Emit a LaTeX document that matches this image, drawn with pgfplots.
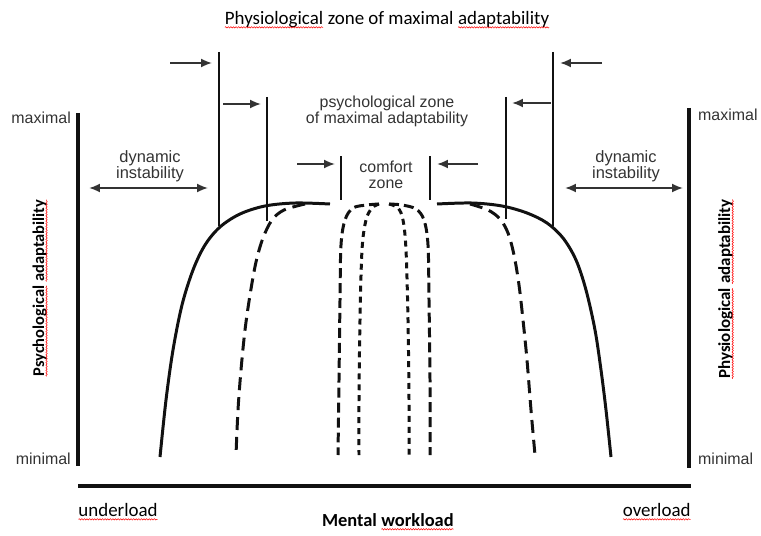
\documentclass[border=0pt]{standalone}
\usepackage{pgfplots}
\pgfplotsset{compat=1.18}
\usepackage{fontspec}
\setmainfont{Carlito}
\newfontfamily\ari{Liberation Sans}
\usetikzlibrary{arrows.meta,decorations.pathmorphing}
\definecolor{ink}{HTML}{111111}
\definecolor{txt}{HTML}{333333}
\newcommand\spl[1]{\tikz[baseline=(w.base)]{\node[inner sep=0pt,outer sep=0pt,text=black,rotate=0](w){#1};
 \draw[red,line width=0.5pt,decorate,decoration={snake,amplitude=0.7pt,segment length=2.6pt}] ([yshift=-2.5pt]w.base west)--([yshift=-2.5pt]w.base east);}}
\begin{document}
\begin{tikzpicture}
\begin{axis}[width=761bp,height=536bp,scale only axis,
  xmin=0,xmax=761,ymin=0,ymax=536,y dir=reverse,hide axis,clip=false]
\addplot[draw=none] coordinates {(0,0)(761,536)};
% frame lines
\addplot[ink,line width=3.4pt] coordinates {(78,113)(78,466)};
\addplot[ink,line width=3.4pt] coordinates {(689,108)(689,468)};
\addplot[ink,line width=3.4pt] coordinates {(78,486)(691,486)};
% solid curves
\addplot[ink,line width=3pt,smooth,tension=0.55] coordinates {
 (160,457)(166,400)(173,350)(182,305)(193,270)(205,245)(220,227)(240,214)(265,206)(295,203)(330,204)};
\addplot[ink,line width=3pt,smooth,tension=0.55] coordinates {
 (437,204)(472,203)(502,206)(527,213)(547,223)(563,238)(576,260)(586,290)(595,330)(601,370)(606,410)(611,457)};
% dashed outer
\addplot[ink,line width=3pt,smooth,tension=0.55,dash pattern=on 13pt off 7pt] coordinates {
 (305,204)(284,210)(272,220)(263,238)(256,262)(250,295)(245,330)(241,370)(238,410)(236,455)};
\addplot[ink,line width=3pt,smooth,tension=0.55,dash pattern=on 13pt off 7pt] coordinates {
 (470,204)(488,210)(500,219)(508,233)(514,255)(519,285)(523,320)(527,360)(531,410)(535,455)};
% middle dashed
\addplot[ink,line width=3pt,smooth,tension=0.55,dash pattern=on 10pt off 5pt] coordinates {
 (379,204)(367,205)(353,208)(345,220)(341,245)(340,300)(339,380)(338,455)};
\addplot[ink,line width=3pt,smooth,tension=0.55,dash pattern=on 10pt off 5pt] coordinates {
 (389,204)(402,205)(416,209)(424,220)(428,245)(429,300)(430,380)(430,455)};
\addplot[ink,line width=3pt,smooth,tension=0.55,dash pattern=on 6pt off 5pt] coordinates {
 (379,204)(372,208)(366,220)(362,250)(360,320)(359,400)(359,455)};
\addplot[ink,line width=3pt,smooth,tension=0.55,dash pattern=on 6pt off 5pt] coordinates {
 (389,204)(398,208)(403,220)(406,250)(408,320)(409,400)(409,455)};
% vertical zone lines
\addplot[ink,line width=1.7pt] coordinates {(219,52)(219,226)};
\addplot[ink,line width=1.7pt] coordinates {(267,97)(267,221)};
\addplot[ink,line width=1.7pt] coordinates {(341,156)(341,200)};
\addplot[ink,line width=1.7pt] coordinates {(430,156)(430,200)};
\addplot[ink,line width=1.7pt] coordinates {(506,97)(506,219)};
\addplot[ink,line width=1.7pt] coordinates {(553,52)(553,226)};
% arrows
\addplot[txt,line width=1.8pt,-{Latex[length=11pt,width=9pt]}] coordinates {(170,63)(212,63)};
\addplot[txt,line width=1.8pt,-{Latex[length=11pt,width=9pt]}] coordinates {(223,104)(261,104)};
\addplot[txt,line width=1.8pt,-{Latex[length=11pt,width=9pt]}] coordinates {(297,164)(335,164)};
\addplot[txt,line width=1.8pt,-{Latex[length=11pt,width=9pt]}] coordinates {(478,164)(437,164)};
\addplot[txt,line width=1.8pt,-{Latex[length=11pt,width=9pt]}] coordinates {(551,103)(512,103)};
\addplot[txt,line width=1.8pt,-{Latex[length=11pt,width=9pt]}] coordinates {(602,63)(560,63)};
\addplot[txt,line width=1.8pt,{Latex[length=11pt,width=9pt]}-{Latex[length=11pt,width=9pt]}] coordinates {(89,188)(208,188)};
\addplot[txt,line width=1.8pt,{Latex[length=11pt,width=9pt]}-{Latex[length=11pt,width=9pt]}] coordinates {(565,188)(683,188)};
% texts
\node[font=\fontsize{19}{20}\selectfont] at (axis cs:387,20) {\spl{Physiological} zone of maximal \spl{adaptability}};
\node[txt,font=\ari\fontsize{16}{16}\selectfont,align=center] at (axis cs:387,111) {psychological zone\\of maximal adaptability};
\node[txt,font=\ari\fontsize{16.5}{16}\selectfont,align=center] at (axis cs:150,166) {dynamic\\instability};
\node[txt,font=\ari\fontsize{16.5}{16}\selectfont,align=center] at (axis cs:626,166) {dynamic\\instability};
\node[txt,font=\ari\fontsize{16}{16}\selectfont,align=center] at (axis cs:386,175) {comfort\\zone};
\node[txt,font=\ari\fontsize{16}{16}\selectfont,anchor=east,inner sep=0pt] at (axis cs:71,118) {maximal};
\node[txt,font=\ari\fontsize{16}{16}\selectfont,anchor=east,inner sep=0pt] at (axis cs:71,459) {minimal};
\node[txt,font=\ari\fontsize{16}{16}\selectfont,anchor=west,inner sep=0pt] at (axis cs:698,115) {maximal};
\node[txt,font=\ari\fontsize{16}{16}\selectfont,anchor=west,inner sep=0pt] at (axis cs:698,459) {minimal};
\node[font=\fontsize{19}{20}\selectfont,anchor=west,inner sep=0pt] at (axis cs:78,512) {\spl{underload}};
\node[font=\fontsize{19}{20}\selectfont,anchor=east,inner sep=0pt] at (axis cs:691,512) {\spl{overload}};
\node[font=\bfseries\fontsize{18.5}{20}\selectfont] at (axis cs:388,522) {Mental \spl{workload}};
\node[font=\bfseries\fontsize{16.5}{18}\selectfont,rotate=90] at (axis cs:40,288) {\spl{Psychological} \spl{adaptability}};
\node[font=\bfseries\fontsize{17}{18}\selectfont,rotate=90] at (axis cs:726,289) {\spl{Physiological} \spl{adaptability}};
\end{axis}
\end{tikzpicture}
\end{document}
